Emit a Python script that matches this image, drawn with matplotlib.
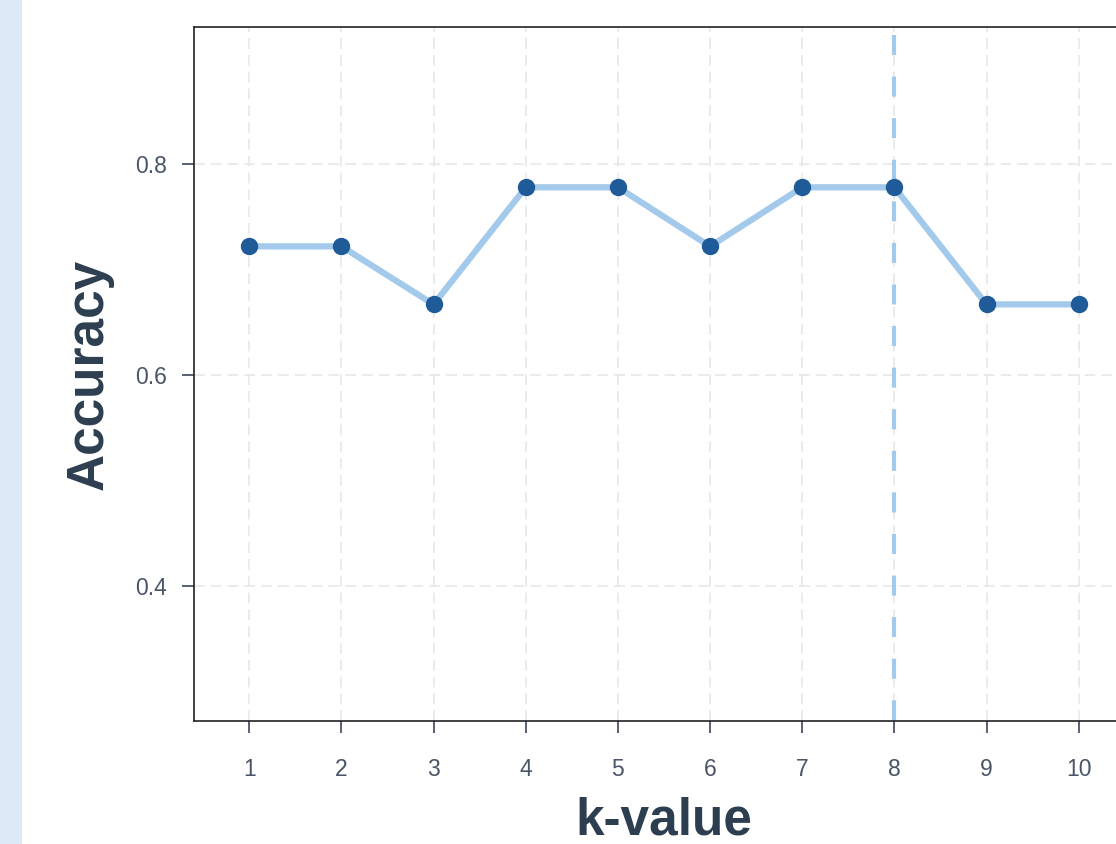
import matplotlib
matplotlib.use("Agg")
import matplotlib.pyplot as plt
from matplotlib.patches import Rectangle

# data
k_values = [1, 2, 3, 4, 5, 6, 7, 8, 9, 10]
accuracy = [0.722, 0.722, 0.667, 0.778, 0.778, 0.722, 0.778, 0.778, 0.667, 0.667]
best_k = 8
y_ticks = [0.4, 0.6, 0.8]

plt.rcParams['font.family'] = ['Liberation Sans', 'DejaVu Sans']

fig = plt.figure(figsize=(11.16, 8.44), dpi=100)
fig.patch.set_facecolor('white')
# light strip on the left edge
fig.patches.append(Rectangle((0, 0), 22 / 1116, 1, transform=fig.transFigure,
                             facecolor='#dce9f7', edgecolor='none', zorder=0))

ax = fig.add_axes([194 / 1116, 123 / 844, 940 / 1116, 694 / 844])
ax.set_xlim(0.4, 10.6)
ax.set_ylim(0.272, 0.93)

ax.grid(True, color='#e6e6e6', linewidth=1.1, linestyle=(0, (7, 4)), zorder=0)

# best k marker line, drawn top-down so the dash pattern starts at the top
ax.plot([best_k, best_k], [0.922, 0.272], color='#a3c9eb', linewidth=3,
        linestyle=(0, (4.8, 5.18)), zorder=2)
ax.plot(k_values, accuracy, color='#a3c9eb', linewidth=4.5, zorder=3)
ax.plot(k_values, accuracy, linestyle='none', marker='o', markersize=11.5,
        color='#1f5b98', zorder=4)

ax.set_xticks(k_values)
ax.set_yticks(y_ticks)
ax.set_yticklabels([f"{v:.1f}" for v in y_ticks])
ax.tick_params(axis='both', colors='#4a5568', labelsize=16.5, length=8.5, width=1.3)
ax.tick_params(axis='x', pad=18)
ax.tick_params(axis='y', pad=11)

for s in ax.spines.values():
    s.set_color('#222222')
    s.set_linewidth(1.2)

ax.set_xlabel('k-value', fontsize=37, fontweight='bold', color='#2c3e50', labelpad=11)
ax.set_ylabel('Accuracy', fontsize=37, fontweight='bold', color='#2c3e50', labelpad=15)

fig.savefig('out.png', dpi=100)
